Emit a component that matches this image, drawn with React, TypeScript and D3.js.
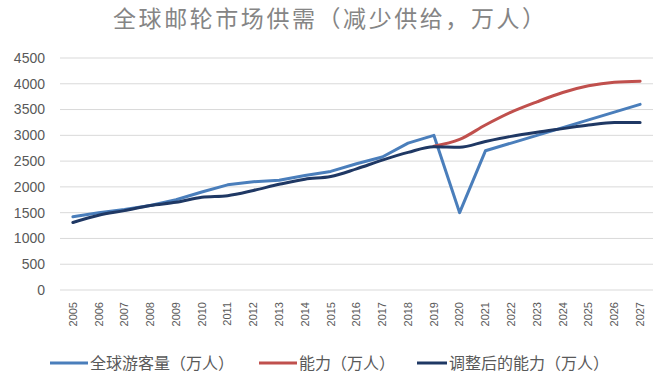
import React from "react";
import * as d3 from "d3";

const years = ["2005","2006","2007","2008","2009","2010","2011","2012","2013","2014","2015","2016","2017","2018","2019","2020","2021","2022","2023","2024","2025","2026","2027"];
const tourists = [1420,1500,1560,1640,1750,1900,2040,2100,2130,2220,2300,2450,2580,2850,3000,1500,2700,2850,3000,3150,3300,3450,3600];
const capacityYears = ["2019","2020","2021","2022","2023","2024","2025","2026","2027"];
const capacity = [2790,2920,3200,3450,3650,3830,3960,4030,4050];
const adjusted = [1310,1450,1540,1640,1700,1800,1830,1930,2050,2150,2200,2350,2520,2670,2780,2770,2880,2980,3060,3130,3200,3250,3250];
const yTicks = [0,500,1000,1500,2000,2500,3000,3500,4000,4500];
const seriesNames = ["全球游客量（万人）","能力（万人）","调整后的能力（万人）"];
const colors = ["#4a7ebb","#c0504d","#1f3864"];
const title = "全球邮轮市场供需（减少供给，万人）";

export default function App() {
  const x = d3.scaleBand<string>().domain(years).range([60, 653]).padding(0);
  const cx = (y: string) => (x(y) as number) + x.bandwidth() / 2;
  const y = d3.scaleLinear().domain([0, 4500]).range([290, 58]);

  const lineSmooth = d3.line<[string, number]>().x(d => cx(d[0])).y(d => y(d[1])).curve(d3.curveMonotoneX);
  const lineBlue = d3.line<[string, number]>().x(d => cx(d[0])).y(d => y(d[1])).curve(d3.curveLinear);

  const blueData = years.map((yr, i) => [yr, tourists[i]] as [string, number]);
  const redData = capacityYears.map((yr, i) => [yr, capacity[i]] as [string, number]);
  const darkData = years.map((yr, i) => [yr, adjusted[i]] as [string, number]);

  const font = "'Liberation Sans', Arial, sans-serif";
  const cjk = "'Noto Sans CJK SC', 'Liberation Sans', sans-serif";

  const legend = [
    { x1: 50, x2: 88, tx: 90, name: seriesNames[0], c: colors[0] },
    { x1: 259, x2: 297, tx: 299, name: seriesNames[1], c: colors[1] },
    { x1: 417, x2: 447, tx: 449, name: seriesNames[2], c: colors[2] },
  ];

  return (
    <svg width={670} height={380} style={{ position: "absolute", left: 0, top: 0, background: "#fff" }}>
      <rect width={670} height={380} fill="#fff" />
      <text x={329} y={27} textAnchor="middle" fontFamily={cjk} fontSize={23} fill="#858585" textLength={432} lengthAdjust="spacing">{title}</text>
      {yTicks.map(t => (
        <g key={t}>
          <line x1={60} x2={653} y1={y(t)} y2={y(t)} stroke="#d9d9d9" strokeWidth={1} />
          <text x={45} y={y(t)} dy="0.35em" textAnchor="end" fontFamily={font} fontSize={14} fill="#595959">{t}</text>
        </g>
      ))}
      {years.map(yr => (
        <text key={yr} transform={`translate(${cx(yr)},302) rotate(-90)`} textAnchor="end" dy="0.35em" fontFamily={font} fontSize={11} fill="#595959">{yr}</text>
      ))}
      <path d={lineBlue(blueData) || ""} fill="none" stroke={colors[0]} strokeWidth={3} strokeLinejoin="round" strokeLinecap="round" />
      <path d={lineSmooth(redData) || ""} fill="none" stroke={colors[1]} strokeWidth={3} strokeLinejoin="round" strokeLinecap="round" />
      <path d={lineSmooth(darkData) || ""} fill="none" stroke={colors[2]} strokeWidth={3} strokeLinejoin="round" strokeLinecap="round" />
      {legend.map(l => (
        <g key={l.name}>
          <line x1={l.x1} x2={l.x2} y1={363} y2={363} stroke={l.c} strokeWidth={3} />
          <text x={l.tx} y={363} dy="0.35em" fontFamily={cjk} fontSize={16} fill="#595959">{l.name}</text>
        </g>
      ))}
    </svg>
  );
}
